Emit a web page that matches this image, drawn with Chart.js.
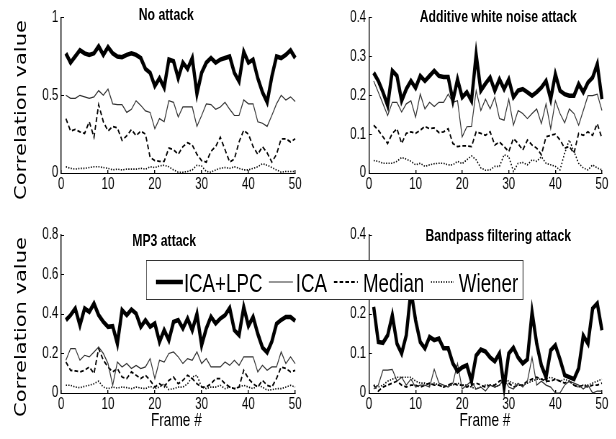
<!DOCTYPE html>
<html>
<head>
<meta charset="utf-8">
<script src="https://cdn.jsdelivr.net/npm/chart.js@4/dist/chart.umd.min.js"></script>
<style>
html,body{margin:0;padding:0;background:#fff;overflow:hidden;width:616px;height:439px}
#stage{position:absolute;left:0;top:0;width:856px;height:439px;transform:scaleX(0.72);transform-origin:0 0}
#stage canvas{position:absolute}
.t{position:absolute;white-space:nowrap;line-height:1;color:#000;font-family:"Liberation Sans",Arial,sans-serif;transform:translate(-50%,-50%);z-index:5}
.ttl{font-weight:bold;font-size:17px}
.ylab{font-family:"DejaVu Sans",sans-serif;font-size:21px;transform:translate(-50%,-50%) rotate(-90deg)}
.xlab{font-size:19px}
#legend{position:absolute;left:203px;top:260px;width:524px;height:40px;box-sizing:border-box;border-style:solid;border-color:#333;border-width:1px 1.4px;background:#fff;z-index:10}
#legend svg{position:absolute;left:0;top:0}
#legend span{position:absolute;top:8.7px;font-family:"Liberation Sans",Arial,sans-serif;font-size:26px;line-height:26px;color:#000;white-space:nowrap}
</style>
</head>
<body>
<div id="stage">
  <canvas id="c1" width="428" height="205" style="left:0;top:0"></canvas>
  <canvas id="c2" width="428" height="205" style="left:428px;top:0"></canvas>
  <canvas id="c3" width="428" height="234" style="left:0;top:205px"></canvas>
  <canvas id="c4" width="428" height="234" style="left:428px;top:205px"></canvas>

  <div class="t ttl" style="left:231px;top:14px">No attack</div>
  <div class="t ttl" style="left:692px;top:16px">Additive white noise attack</div>
  <div class="t ttl" style="left:228px;top:240px">MP3 attack</div>
  <div class="t ttl" style="left:692px;top:235px">Bandpass filtering attack</div>

  <div class="t ylab" style="left:28.5px;top:110px">Correlation value</div>
  <div class="t ylab" style="left:28.5px;top:327px">Correlation value</div>

  <div class="t xlab" style="left:245px;top:418.5px">Frame #</div>
  <div class="t xlab" style="left:673.6px;top:418.5px">Frame #</div>

  <div id="legend">
    <svg width="522" height="38">
      <line x1="12.5" y1="21" x2="50" y2="21" stroke="#000" stroke-width="4.5"/>
      <line x1="169.4" y1="21" x2="202.8" y2="21" stroke="#333" stroke-width="1.2"/>
      <line x1="259.7" y1="21" x2="293" y2="21" stroke="#000" stroke-width="1.8" stroke-dasharray="5 3"/>
      <line x1="394.4" y1="21" x2="426.4" y2="21" stroke="#000" stroke-width="1.6" stroke-dasharray="1.5 2"/>
    </svg>
    <span style="left:51.4px">ICA+LPC</span>
    <span style="left:206.9px">ICA</span>
    <span style="left:300px">Median</span>
    <span style="left:433.3px">Wiener</span>
  </div>
</div>

<script>
// ---------- data ----------
const frames = [1,2,3,4,5,6,7,8,9,10,11,12,13,14,15,16,17,18,19,20,21,22,23,24,25,26,27,28,29,30,31,32,33,34,35,36,37,38,39,40,41,42,43,44,45,46,47,48,49,50];
const seriesNames = ["ICA+LPC", "ICA", "Median", "Wiener"];
const xTicks = [0,10,20,30,40,50];

// No attack
const noAttackYTicks = [0, 0.5, 1];
const noAttackIcaLpc = [0.77,0.71,0.75,0.79,0.77,0.76,0.77,0.815,0.76,0.81, 0.77,0.75,0.745,0.76,0.77,0.76,0.74,0.67,0.645,0.56, 0.61,0.55,0.73,0.72,0.61,0.71,0.67,0.74,0.51,0.645, 0.71,0.74,0.71,0.73,0.74,0.75,0.645,0.59,0.78,0.71, 0.73,0.61,0.52,0.455,0.62,0.75,0.74,0.76,0.79,0.74];
const noAttackIca = [0.50,0.48,0.48,0.50,0.49,0.48,0.49,0.53,0.50,0.54, 0.445,0.44,0.44,0.39,0.41,0.465,0.435,0.40,0.39,0.285, 0.35,0.33,0.465,0.455,0.36,0.425,0.425,0.425,0.30,0.37, 0.445,0.44,0.41,0.425,0.455,0.41,0.37,0.37,0.47,0.445, 0.445,0.33,0.32,0.30,0.37,0.445,0.50,0.47,0.49,0.46];
const noAttackMedian = [0.35,0.27,0.28,0.265,0.255,0.33,0.23,0.44,0.33,0.27, 0.30,0.29,0.21,0.24,0.28,0.24,0.27,0.25,0.10,0.08, 0.075,0.075,0.16,0.15,0.12,0.17,0.195,0.18,0.12,0.08, 0.07,0.14,0.17,0.23,0.15,0.07,0.09,0.20,0.275,0.25, 0.17,0.12,0.17,0.13,0.07,0.12,0.22,0.22,0.20,0.22];
const noAttackWiener = [0.04,0.03,0.025,0.03,0.03,0.035,0.04,0.04,0.035,0.03, 0.02,0.025,0.02,0.025,0.025,0.025,0.03,0.025,0.04,0.035, 0.045,0.05,0.04,0.02,0.005,0.005,0.01,0.02,0.05,0.045, 0.01,0.005,0.02,0.03,0.035,0.03,0.04,0.03,0.02,0.02, 0.03,0.04,0.06,0.05,0.035,0.02,0.005,0.01,0.01,0.01];

// Additive white noise attack
const noiseYTicks = [0, 0.1, 0.2, 0.3, 0.4];
const noiseIcaLpc = [0.258,0.237,0.208,0.174,0.263,0.25,0.186,0.216,0.237,0.219, 0.25,0.237,0.25,0.263,0.25,0.247,0.247,0.186,0.241,0.195, 0.208,0.186,0.305,0.212,0.23,0.246,0.212,0.241,0.216,0.241, 0.195,0.212,0.216,0.208,0.199,0.208,0.22,0.237,0.19,0.254, 0.212,0.203,0.199,0.199,0.229,0.208,0.233,0.246,0.28,0.19];
const noiseIca = [0.237,0.208,0.178,0.148,0.182,0.182,0.157,0.178,0.186,0.144, 0.203,0.165,0.182,0.171,0.182,0.182,0.203,0.182,0.186,0.093, 0.119,0.12,0.212,0.161,0.19,0.165,0.195,0.14,0.136,0.19, 0.123,0.161,0.153,0.14,0.153,0.165,0.127,0.178,0.114,0.186, 0.153,0.129,0.165,0.153,0.123,0.161,0.199,0.199,0.203,0.161];
const noiseMedian = [0.123,0.11,0.093,0.076,0.102,0.114,0.076,0.102,0.106,0.102, 0.11,0.12,0.114,0.116,0.104,0.106,0.114,0.076,0.068,0.07, 0.07,0.068,0.106,0.102,0.097,0.106,0.072,0.08,0.068,0.055, 0.089,0.076,0.059,0.085,0.072,0.064,0.047,0.093,0.097,0.1, 0.085,0.064,0.068,0.051,0.102,0.097,0.106,0.097,0.127,0.089];
const noiseWiener = [0.032,0.03,0.025,0.025,0.025,0.03,0.04,0.036,0.03,0.021, 0.025,0.017,0.021,0.024,0.025,0.025,0.021,0.021,0.03,0.024, 0.034,0.044,0.034,0.013,0.007,0.008,0.017,0.017,0.047,0.042, 0.004,0.025,0.027,0.021,0.034,0.03,0.042,0.025,0.021,0.017, 0.008,0.051,0.085,0.055,0.025,0.013,0.008,0.021,0.013,0.008];

// MP3 attack
const mp3YTicks = [0, 0.2, 0.4, 0.6, 0.8];
const mp3IcaLpc = [0.369,0.394,0.428,0.343,0.428,0.411,0.453,0.394,0.36,0.335, 0.338,0.25,0.42,0.394,0.423,0.402,0.335,0.369,0.335,0.352, 0.259,0.318,0.267,0.36,0.369,0.327,0.377,0.318,0.40,0.242, 0.327,0.386,0.352,0.377,0.394,0.43,0.318,0.293,0.435,0.34, 0.385,0.30,0.23,0.205,0.26,0.35,0.37,0.385,0.385,0.365];
const mp3Ica = [0.166,0.225,0.225,0.166,0.191,0.183,0.208,0.233,0.2,0.149, 0.039,0.157,0.132,0.149,0.124,0.14,0.124,0.132,0.174,0.073, 0.166,0.157,0.2,0.208,0.183,0.149,0.174,0.166,0.208,0.149, 0.174,0.132,0.132,0.132,0.157,0.14,0.166,0.14,0.183,0.183, 0.183,0.107,0.14,0.115,0.132,0.132,0.208,0.149,0.183,0.149];
const mp3Median = [0.157,0.115,0.112,0.107,0.115,0.132,0.098,0.225,0.166,0.132, 0.107,0.124,0.081,0.073,0.107,0.09,0.073,0.09,0.064,0.03, 0.047,0.03,0.064,0.081,0.047,0.064,0.09,0.073,0.047,0.03, 0.03,0.047,0.073,0.073,0.047,0.03,0.022,0.03,0.115,0.073, 0.047,0.03,0.064,0.039,0.03,0.073,0.132,0.124,0.107,0.115];
const mp3Wiener = [0.039,0.039,0.03,0.027,0.034,0.039,0.047,0.06,0.03,0.022, 0.03,0.025,0.03,0.027,0.022,0.03,0.025,0.022,0.034,0.022, 0.03,0.047,0.017,0.022,0.03,0.03,0.047,0.081,0.09,0.03, 0.022,0.03,0.03,0.039,0.022,0.03,0.022,0.03,0.039,0.03, 0.022,0.039,0.03,0.014,0.017,0.022,0.022,0.03,0.039,0.03];

// Bandpass filtering attack
const bandYTicks = [0, 0.1, 0.2, 0.3, 0.4];
const bandIcaLpc = [0.218,0.129,0.127,0.146,0.197,0.125,0.1,0.146,0.26,0.184, 0.129,0.113,0.142,0.134,0.138,0.113,0.113,0.075,0.055,0.065, 0.07,0.03,0.095,0.11,0.105,0.09,0.08,0.1,0.015,0.1, 0.115,0.09,0.075,0.085,0.205,0.125,0.07,0.04,0.108,0.121, 0.085,0.045,0.04,0.035,0.062,0.145,0.125,0.214,0.227,0.159];
const bandIca = [0.01,0.02,0.058,0.058,0.06,0.03,0.04,0.02,0.035,0.015, 0.02,0.02,0.015,0.06,0.025,0.02,0.015,0.025,0.075,0.01, 0.02,0.03,0.01,0.015,0.005,0.02,0.015,0.02,0.035,0.015, 0.01,0.025,0.015,0.03,0.09,0.02,0.03,0.02,0.015,0.0, 0.0,0.02,0.03,0.025,0.02,0.01,0.02,0.0,0.005,0.005];
const bandMedian = [0.02,0.005,0.015,0.02,0.025,0.03,0.02,0.015,0.02,0.02, 0.015,0.02,0.025,0.02,0.02,0.015,0.02,0.025,0.02,0.02, 0.015,0.02,0.025,0.02,0.015,0.02,0.02,0.03,0.035,0.025, 0.015,0.02,0.02,0.03,0.035,0.04,0.035,0.03,0.03,0.035, 0.03,0.025,0.03,0.02,0.015,0.02,0.015,0.02,0.02,0.025];
const bandWiener = [0.02,0.015,0.02,0.03,0.035,0.04,0.04,0.04,0.04,0.03, 0.025,0.025,0.02,0.025,0.02,0.015,0.02,0.02,0.025,0.02, 0.02,0.015,0.01,0.015,0.02,0.02,0.015,0.02,0.035,0.03, 0.025,0.02,0.02,0.025,0.03,0.035,0.035,0.035,0.04,0.035, 0.03,0.035,0.03,0.02,0.015,0.02,0.02,0.025,0.03,0.035];

// ---------- styles ----------
const lineStyles = [
  {borderColor:'#000', borderWidth:4.5, borderDash:[]},
  {borderColor:'#333', borderWidth:1.2, borderDash:[]},
  {borderColor:'#000', borderWidth:1.8, borderDash:[5,3]},
  {borderColor:'#000', borderWidth:1.6, borderDash:[1.5,2]}
];
const FONT = '"Liberation Sans", Arial, sans-serif';

function makeChart(id, series, yTicks, box) {
  const datasets = series.map((vals, i) => Object.assign({
    label: seriesNames[i],
    data: vals,
    pointRadius: 0,
    tension: 0,
    fill: false,
    clip: false,
    order: i === 0 ? -1 : i
  }, lineStyles[i]));
  return new Chart(document.getElementById(id), {
    type: 'line',
    data: { labels: frames, datasets: datasets },
    options: {
      responsive: false,
      animation: false,
      devicePixelRatio: 1,
      events: [],
      layout: { padding: { top: box.top, right: box.right, left: 0, bottom: 0 } },
      plugins: { legend: { display: false }, tooltip: { enabled: false }, title: { display: false } },
      scales: {
        x: {
          type: 'linear', min: 0, max: 50,
          afterBuildTicks: s => { s.ticks = xTicks.map(v => ({ value: v })); },
          ticks: { color: '#000', font: { family: FONT, size: 16 }, padding: 5, maxRotation: 0, autoSkip: false },
          grid: { drawOnChartArea: false, drawTicks: true, tickLength: -3, color: '#000', lineWidth: 1.4 },
          border: { color: '#000', width: 1 },
          afterFit: s => { s.height = box.xh; }
        },
        y: {
          type: 'linear', min: 0, max: yTicks[yTicks.length - 1],
          afterBuildTicks: s => { s.ticks = yTicks.map(v => ({ value: v })); },
          ticks: { color: '#000', font: { family: FONT, size: 16 }, padding: 8, autoSkip: false, callback: v => String(v) },
          grid: { drawOnChartArea: false, drawTicks: true, tickLength: -4, color: '#000', lineWidth: 1 },
          border: { color: '#000', width: 1.4 },
          afterFit: s => { s.width = box.yw; }
        }
      }
    }
  });
}

makeChart('c1', [noAttackIcaLpc, noAttackIca, noAttackMedian, noAttackWiener], noAttackYTicks, {top:16, right:18, yw:85, xh:32});
makeChart('c2', [noiseIcaLpc, noiseIca, noiseMedian, noiseWiener], noiseYTicks, {top:16, right:20, yw:84.5, xh:32});
makeChart('c3', [mp3IcaLpc, mp3Ica, mp3Median, mp3Wiener], mp3YTicks, {top:30, right:18, yw:85, xh:46});
makeChart('c4', [bandIcaLpc, bandIca, bandMedian, bandWiener], bandYTicks, {top:30, right:20, yw:84.5, xh:46});
</script>
</body>
</html>
